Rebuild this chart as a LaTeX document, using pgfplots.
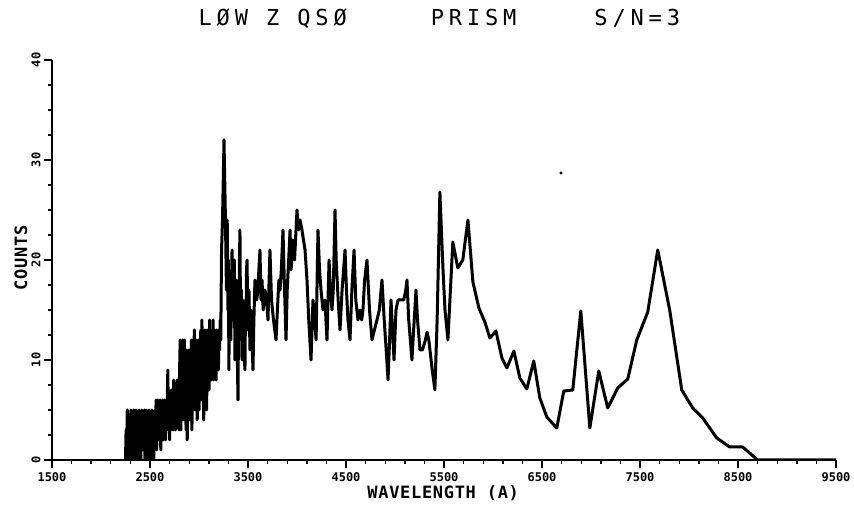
\documentclass[border=0pt]{standalone}
\usepackage{fontspec}
\usepackage{pgfplots}
\pgfplotsset{compat=1.18}
\newfontfamily\titlefont[LetterSpace=22]{DejaVu Sans Mono}
\newfontfamily\labelfont[LetterSpace=4]{DejaVu Sans Mono}
\newfontfamily\tickfont{DejaVu Sans Mono}

\begin{document}
\begin{tikzpicture}
\begin{axis}[
  scale only axis,
  width=784pt, height=400pt,
  xmin=1500, xmax=9500, ymin=0, ymax=40,
  axis lines=left,
  axis line style={-, line width=1.8pt},
  xtick={1500,2500,3500,4500,5500,6500,7500,8500,9500},
  xticklabels={1500,2500,3500,4500,5500,6500,7500,8500,9500},
  ytick={0,10,20,30,40},
  yticklabels={0,10,20,30,40},
  minor x tick num=4, minor y tick num=3,
  tick align=outside,
  major tick length=8pt, minor tick length=4pt,
  tick style={line width=1.4pt, black},
  x tick label style={font=\fontsize{12}{12}\selectfont\tickfont\bfseries, anchor=north, yshift=-1pt},
  y tick label style={font=\fontsize{12}{12}\selectfont\tickfont\bfseries, rotate=90, anchor=south},
  xlabel={WAVELENGTH (A)},
  ylabel={COUNTS},
  xlabel style={font=\fontsize{17}{17}\selectfont\labelfont\bfseries, at={(rel axis cs:0.499,0)}, anchor=center, yshift=-33pt},
  ylabel style={font=\fontsize{17}{17}\selectfont\labelfont\bfseries, at={(rel axis cs:0,0.505)}, anchor=center, yshift=31pt},
  title={LØW Z QSØ\hspace{84pt}PRISM\hspace{78pt}S/N=3},
  title style={font=\fontsize{22}{22}\selectfont\titlefont, at={(rel axis cs:0.494,1.088)}, anchor=center},
]
% spectrum
\addplot[black, line width=3pt, line join=round] coordinates {
(2250,0) (2256,3) (2262,1) (2268,5) (2274,0) (2280,4) (2286,1) (2292,3) (2298,0) (2304,5)
(2310,2) (2316,4) (2322,0) (2328,3) (2334,5) (2340,1) (2346,4) (2352,0) (2358,5) (2364,2)
(2370,4) (2376,0) (2382,3) (2388,5) (2394,1) (2400,4) (2406,0) (2412,3) (2418,5) (2424,1)
(2430,4) (2436,2) (2442,5) (2448,0) (2454,3) (2460,5) (2466,1) (2472,4) (2478,0) (2484,3)
(2490,5) (2496,2) (2502,4) (2508,0) (2514,3) (2520,5) (2526,1) (2532,4) (2538,0) (2544,3)
(2550,5) (2556,2) (2562,6) (2568,1) (2574,4) (2580,6) (2586,2) (2592,5) (2598,3) (2604,6)
(2610,1) (2616,5) (2622,3) (2628,6) (2634,2) (2640,5) (2646,3) (2652,6) (2658,2) (2664,5)
(2670,3) (2676,6) (2682,9) (2688,3) (2694,6) (2700,2) (2706,5) (2712,3) (2718,7) (2724,4)
(2730,6) (2736,3) (2742,8) (2748,4) (2754,6) (2760,3) (2766,7) (2772,5) (2778,8) (2784,4)
(2790,6) (2796,3) (2802,9) (2808,12) (2814,3) (2820,10) (2826,5) (2832,12) (2838,4) (2844,9)
(2850,12) (2856,5) (2862,8) (2868,3) (2874,11) (2880,2) (2886,8) (2892,5) (2898,11) (2904,4)
(2910,9) (2916,6) (2922,12) (2928,3) (2934,10) (2940,12) (2946,6) (2952,13) (2958,5) (2964,11)
(2970,7) (2976,12) (2982,4) (2988,9) (2994,12) (3000,5) (3006,11) (3012,7) (3018,13) (3024,6)
(3030,14) (3036,8) (3042,12) (3048,4) (3054,10) (3060,13) (3066,7) (3072,11) (3078,5) (3084,13)
(3090,8) (3096,12) (3102,7) (3108,14) (3114,9) (3120,13) (3126,8) (3132,12) (3138,9) (3144,14)
(3150,8) (3156,13) (3162,10) (3168,12) (3174,8) (3180,13) (3186,10) (3192,12) (3198,9) (3204,13)
(3210,11) (3216,14) (3222,12) (3230,21) (3240,24) (3255,32) (3270,24) (3280,17) (3288,24) (3295,15)
(3300,20) (3305,9) (3310,16) (3315,12) (3320,18) (3325,12) (3330,16) (3337,21) (3342,14) (3348,19)
(3355,15) (3360,20) (3367,10) (3372,16) (3380,18) (3388,12) (3398,6) (3403,14) (3408,13) (3413,20)
(3418,23) (3423,15) (3428,12) (3433,17) (3439,10) (3445,16) (3450,15) (3458,11) (3469,9) (3475,16)
(3480,14) (3485,19) (3490,20) (3500,13) (3510,17) (3520,11) (3530,15) (3551,9) (3560,14) (3571,18)
(3590,16) (3600,17) (3622,21) (3633,16) (3643,18) (3655,15) (3673,17) (3690,16) (3704,14) (3724,21)
(3740,16) (3760,14) (3786,12) (3800,15) (3815,18) (3827,17) (3840,19) (3857,23) (3870,18) (3888,12)
(3900,17) (3915,20) (3929,23) (3940,19) (3959,22) (3975,20) (3990,23) (4000,25) (4015,23) (4031,24)
(4051,23) (4066,22) (4082,21) (4102,18) (4120,14) (4143,10) (4153,13) (4163,16) (4180,14) (4195,12)
(4214,23) (4230,19) (4245,17) (4265,15) (4285,16) (4306,12) (4327,20) (4340,17) (4357,15) (4370,17)
(4388,25) (4400,20) (4420,16) (4439,13) (4460,17) (4475,19) (4490,21) (4505,17) (4520,14) (4541,12)
(4560,17) (4582,21) (4600,16) (4622,14) (4645,15) (4660,14) (4673,15) (4690,18) (4714,20) (4740,15)
(4765,12) (4790,13) (4816,14) (4840,15) (4867,18) (4890,14) (4910,11) (4929,8) (4945,12) (4959,16)
(4975,13) (4990,10) (5010,15) (5031,16) (5060,16) (5090,16) (5110,17) (5122,18) (5140,14) (5173,10)
(5190,13) (5214,17) (5230,14) (5255,11) (5280,11) (5310,12) (5327,12.8) (5345,12) (5380,9) (5407,7)
(5430,14) (5458,26.8) (5490,19) (5510,15) (5540,12) (5590,21.8) (5641,19.2) (5692,20) (5744,24) (5795,17.8)
(5856,15.2) (5917,13.8) (5968,12.2) (6030,12.9) (6091,10.2) (6142,9.2) (6213,10.9) (6274,8.2) (6345,7.1) (6416,9.9)
(6478,6.2) (6549,4.3) (6651,3.2) (6722,6.9) (6814,7.0) (6896,14.9) (6988,3.2) (7079,8.9) (7171,5.2) (7273,7.2)
(7375,8.1) (7467,12) (7579,14.8) (7681,21) (7803,15) (7926,7) (8038,5.2) (8140,4.2) (8283,2.2) (8416,1.3)
(8548,1.3) (8701,0) (9500,0)
};
% stray dot
\addplot[only marks, mark=*, mark size=1.4pt, black] coordinates {(6694,28.7)};
\end{axis}
\pgfresetboundingbox
\path[use as bounding box] (-52pt,-45pt) rectangle (802pt,460pt);
\end{tikzpicture}
\end{document}
